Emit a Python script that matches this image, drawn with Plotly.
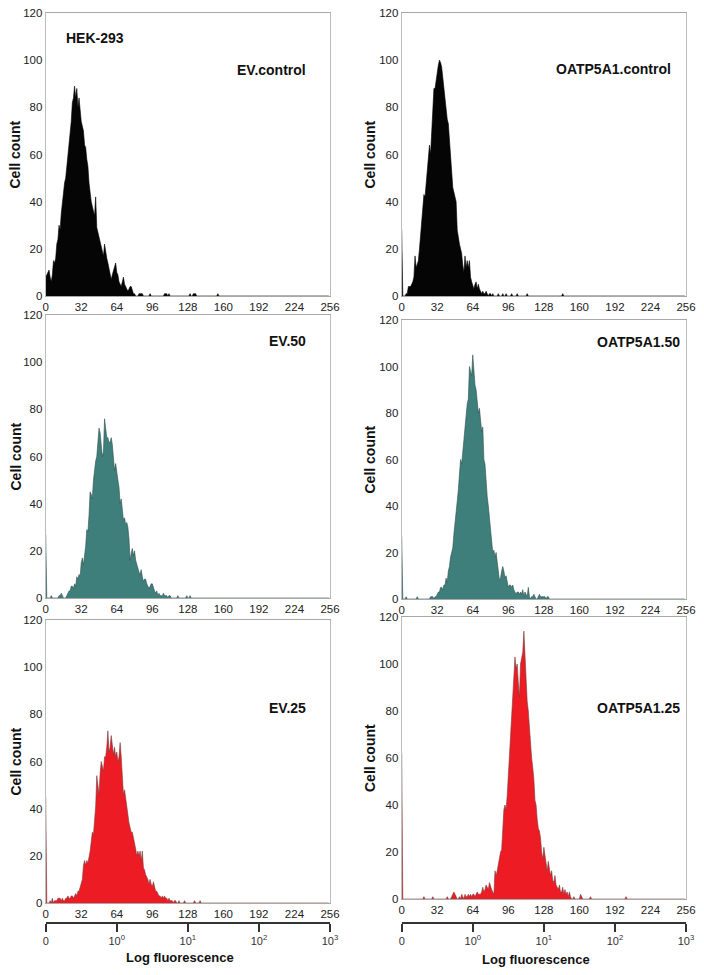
import plotly.graph_objects as go

# ---------------- data: cell counts per fluorescence channel (0..255) ----------------
N_CH = 256
x_ticks = [0, 32, 64, 96, 128, 160, 192, 224, 256]
y_ticks = [0, 20, 40, 60, 80, 100, 120]
log_tickvals = [0, 64, 128, 192, 256]
log_ticktext = ["0", "10<sup>0</sup>", "10<sup>1</sup>", "10<sup>2</sup>", "10<sup>3</sup>"]

panel_labels = ["EV.control", "OATP5A1.control", "EV.50", "OATP5A1.50", "EV.25", "OATP5A1.25"]

# EV.control (channels 0..80) + sparse tail
ev_control = [8, 9, 10, 11, 8, 6, 9, 15, 14, 16, 22, 24, 30, 28, 35, 40, 42, 48, 50, 55,
              60, 62, 70, 74, 82, 84, 89, 84, 88, 80, 84, 78, 74, 72, 70, 64, 63, 58, 55, 48,
              42, 40, 38, 36, 34, 42, 29, 27, 25, 22, 21, 18, 17, 22, 18, 16, 14, 12, 9, 7,
              9, 11, 13, 14, 10, 9, 6, 5, 4, 6, 8, 5, 4, 3, 2, 3, 4, 4, 2, 1, 1]
ev_control_tail = {84: 1, 85: 1, 86: 1, 87: 1, 94: 1, 107: 1, 108: 1, 109: 1, 111: 1,
                   130: 1, 133: 1, 134: 1, 135: 1, 155: 1}

# OATP5A1.control
oatp_control = [28, 0, 0, 0, 1, 1, 4, 4, 4, 5, 6, 8, 17, 12, 14, 15, 20, 25, 32, 38,
                43, 42, 48, 55, 58, 64, 60, 70, 80, 88, 88, 92, 94, 98, 100, 99, 97, 92, 90, 85,
                80, 75, 73, 65, 58, 52, 46, 44, 41, 40, 28, 24, 22, 20, 18, 13, 10, 17, 12, 15,
                12, 15, 8, 6, 4, 3, 5, 6, 3, 5, 3, 2, 1, 2, 1, 1, 2, 1, 0, 1, 1]
oatp_control_tail = {82: 1, 87: 1, 91: 1, 94: 1, 99: 1, 104: 1, 113: 1, 145: 1}

# EV.50
ev_50 = [27, 0, 0, 0, 0, 1, 0, 0, 0, 0, 0, 0, 1, 1, 2, 1, 0, 0, 0, 1,
         2, 3, 3, 5, 5, 4, 6, 5, 9, 8, 10, 9, 15, 17, 14, 18, 22, 29, 28, 35,
         45, 44, 42, 50, 56, 58, 60, 65, 72, 70, 64, 60, 62, 76, 72, 68, 68, 66, 66, 68,
         65, 60, 54, 57, 52, 50, 47, 40, 42, 38, 33, 34, 31, 32, 30, 25, 16, 19, 21, 18,
         20, 16, 14, 12, 11, 10, 12, 9, 7, 8, 8, 6, 5, 4, 5, 6, 6, 4, 3, 2,
         3, 1, 2, 1, 1, 1, 2, 1, 1, 1, 0, 1, 1]
ev_50_tail = {119: 1, 127: 1, 130: 1}

# OATP5A1.50
oatp_50 = [27, 0, 0, 0, 1, 0, 0, 0, 0, 0, 0, 0, 0, 0, 1, 0, 0, 0, 0, 0,
           0, 0, 0, 0, 0, 0, 1, 1, 1, 0, 1, 1, 2, 3, 3, 5, 5, 4, 6, 6,
           9, 7, 12, 14, 18, 20, 22, 28, 32, 36, 42, 47, 55, 60, 58, 64, 68, 72, 80, 84,
           86, 100, 98, 96, 105, 96, 92, 90, 86, 80, 82, 76, 72, 74, 60, 58, 50, 44, 40, 34,
           30, 22, 20, 21, 18, 20, 14, 12, 8, 9, 12, 14, 12, 9, 10, 7, 5, 6, 6, 5,
           6, 4, 3, 2, 3, 3, 2, 3, 2, 4, 1, 3, 2, 1, 5, 1, 0, 1, 1, 2,
           1, 0, 0, 1, 2, 1, 1, 1, 1, 1, 0, 1, 1]
oatp_50_tail = {}

# EV.25
ev_25 = [45, 0, 0, 0, 1, 0, 2, 0, 1, 1, 1, 2, 2, 2, 1, 2, 1, 1, 2, 2,
         3, 2, 2, 3, 3, 2, 3, 4, 3, 5, 5, 7, 8, 10, 16, 18, 16, 18, 17, 19,
         22, 26, 30, 29, 36, 41, 54, 50, 46, 55, 60, 58, 56, 62, 62, 66, 73, 64, 66, 71,
         66, 63, 66, 62, 64, 60, 62, 68, 62, 52, 46, 48, 44, 40, 36, 34, 32, 30, 30, 28,
         25, 23, 20, 22, 20, 22, 18, 22, 15, 14, 12, 11, 10, 8, 10, 8, 7, 9, 6, 5,
         5, 4, 3, 3, 2, 3, 2, 3, 2, 2, 1, 2, 1, 1, 1, 0, 1, 1]
ev_25_tail = {120: 1, 125: 1, 134: 1, 139: 1}

# OATP5A1.25
oatp_25 = [62, 0, 0, 0, 0, 0, 0, 0, 0, 0, 0, 0, 0, 0, 0, 0, 0, 0, 0, 0,
           1, 0, 0, 0, 0, 0, 0, 0, 1, 0, 0, 0, 0, 0, 0, 0, 0, 0, 0, 0,
           0, 1, 0, 0, 0, 1, 2, 3, 2, 1, 0, 0, 1, 0, 2, 1, 0, 2, 1, 1,
           2, 1, 2, 1, 2, 2, 1, 2, 3, 2, 2, 2, 3, 5, 3, 4, 6, 5, 4, 7,
           5, 4, 3, 2, 12, 10, 12, 15, 18, 20, 21, 30, 38, 40, 38, 44, 52, 60, 70, 76,
           88, 96, 103, 98, 100, 92, 86, 100, 102, 105, 114, 104, 92, 84, 80, 72, 66, 60, 56, 51,
           42, 40, 34, 30, 29, 26, 20, 17, 22, 18, 14, 12, 16, 12, 10, 12, 8, 7, 10, 6,
           5, 4, 6, 3, 3, 5, 2, 4, 2, 3, 1, 3, 1, 0, 0, 1, 0, 0, 0, 0,
           0, 2, 1, 0]
oatp_25_tail = {170: 1, 202: 1}

series_main = [ev_control, oatp_control, ev_50, oatp_50, ev_25, oatp_25]
series_tail = [ev_control_tail, oatp_control_tail, ev_50_tail, oatp_50_tail, ev_25_tail, oatp_25_tail]

# ---------------- styling ----------------
W, H = 704, 975
FONT = "Liberation Sans, Arial, sans-serif"
fills = ["#050505", "#050505", "#3f7f7b", "#3f7f7b", "#ed1c24", "#ed1c24"]
edges = ["#000000", "#000000", "#2f4f4d", "#2f4f4d", "#7a3a3a", "#7a3a3a"]

col_x = [(45.7, 330.0), (401.7, 686.0)]
row_y = [(13, 296), (13, 296), (315, 598), (320, 599), (620, 903), (617, 899)]


def px_x(p):
    return p / W


def px_y(p):
    return 1 - p / H


fig = go.Figure()
channels = list(range(N_CH))

for i in range(6):
    counts = [0] * N_CH
    for c, v in enumerate(series_main[i]):
        counts[c] = v
    for c, v in series_tail[i].items():
        counts[c] = v
    k = i + 1
    fig.add_trace(go.Scatter(
        x=channels, y=counts, mode="lines", fill="tozeroy",
        fillcolor=fills[i], line=dict(color=edges[i], width=0.6),
        xaxis=f"x{k}", yaxis=f"y{k}", showlegend=False, hoverinfo="skip"))

layout = dict(
    template="none",
    width=W, height=H, margin=dict(l=0, r=0, t=0, b=0, autoexpand=False),
    paper_bgcolor="white", plot_bgcolor="white",
    font=dict(family=FONT, color="#222"), showlegend=False,
)

for i in range(6):
    k = i + 1
    cx = col_x[i % 2]
    ry = row_y[i]
    layout[f"xaxis{k}"] = dict(
        domain=[px_x(cx[0]), px_x(cx[1])], anchor=f"y{k}", range=[0, 256], automargin=False,
        tickvals=x_ticks, ticks="", showline=True, linecolor="#a8a8a8", linewidth=1,
        mirror=True, showgrid=False, zeroline=False, tickfont=dict(size=11.5, color="#222"),
        fixedrange=True)
    layout[f"yaxis{k}"] = dict(
        domain=[px_y(ry[1]), px_y(ry[0])], anchor=f"x{k}", range=[0, 120], automargin=False,
        tickvals=y_ticks, ticks="", showline=True, linecolor="#bcbcbc", linewidth=1,
        mirror=True, showgrid=False, zeroline=False, tickfont=dict(size=11.5, color="#222"),
        fixedrange=True)

# log-fluorescence axes under each column
for j in range(2):
    k = 7 + j
    cx = col_x[j]
    layout[f"xaxis{k}"] = dict(
        domain=[px_x(cx[0]), px_x(cx[1])], anchor=f"y{k}", range=[0, 256], automargin=False,
        tickvals=log_tickvals, ticktext=log_ticktext, ticks="outside", ticklen=8,
        tickwidth=2, tickcolor="#333", showline=True, linecolor="#333", linewidth=2,
        showgrid=False, zeroline=False, tickfont=dict(size=11, color="#333"), fixedrange=True)
    layout[f"yaxis{k}"] = dict(domain=[px_y(921.7), px_y(918)], anchor=f"x{k}", automargin=False,
                               range=[0, 1], visible=False, fixedrange=True)
    fig.add_trace(go.Scatter(x=[0], y=[0.5], mode="markers", marker=dict(opacity=0),
                             xaxis=f"x{k}", yaxis=f"y{k}", showlegend=False, hoverinfo="skip"))

annotations = []
# y-axis titles
for i in range(6):
    ry = row_y[i]
    xc = 15 if i % 2 == 0 else 370
    annotations.append(dict(text="<b>Cell count</b>", x=px_x(xc), y=px_y((ry[0] + ry[1]) / 2),
                            xref="paper", yref="paper", showarrow=False, textangle=-90,
                            font=dict(size=14, color="#111"), xanchor="center", yanchor="middle"))
# panel labels (right edge x, center y)
label_pos = [(308, 70), (673, 69), (308, 341), (682, 342), (308, 708), (682, 708)]
for i in range(6):
    annotations.append(dict(text=f"<b>{panel_labels[i]}</b>", x=px_x(label_pos[i][0]),
                            y=px_y(label_pos[i][1]), xref="paper", yref="paper", showarrow=False,
                            xanchor="right", yanchor="middle", font=dict(size=14, color="#111")))
annotations.append(dict(text="<b>HEK-293</b>", x=px_x(95), y=px_y(38), xref="paper", yref="paper",
                        showarrow=False, xanchor="center", yanchor="middle",
                        font=dict(size=14, color="#111")))
for xc, yc in [(180, 957), (536, 959)]:
    annotations.append(dict(text="<b>Log fluorescence</b>", x=px_x(xc), y=px_y(yc), xref="paper",
                            yref="paper", showarrow=False, xanchor="center", yanchor="middle",
                            font=dict(size=13, color="#111")))
layout["annotations"] = annotations

fig.update_layout(**layout)
fig.write_html("out.html", config={"displayModeBar": False},
               post_script="document.body.style.margin='0';document.body.style.padding='0';")
